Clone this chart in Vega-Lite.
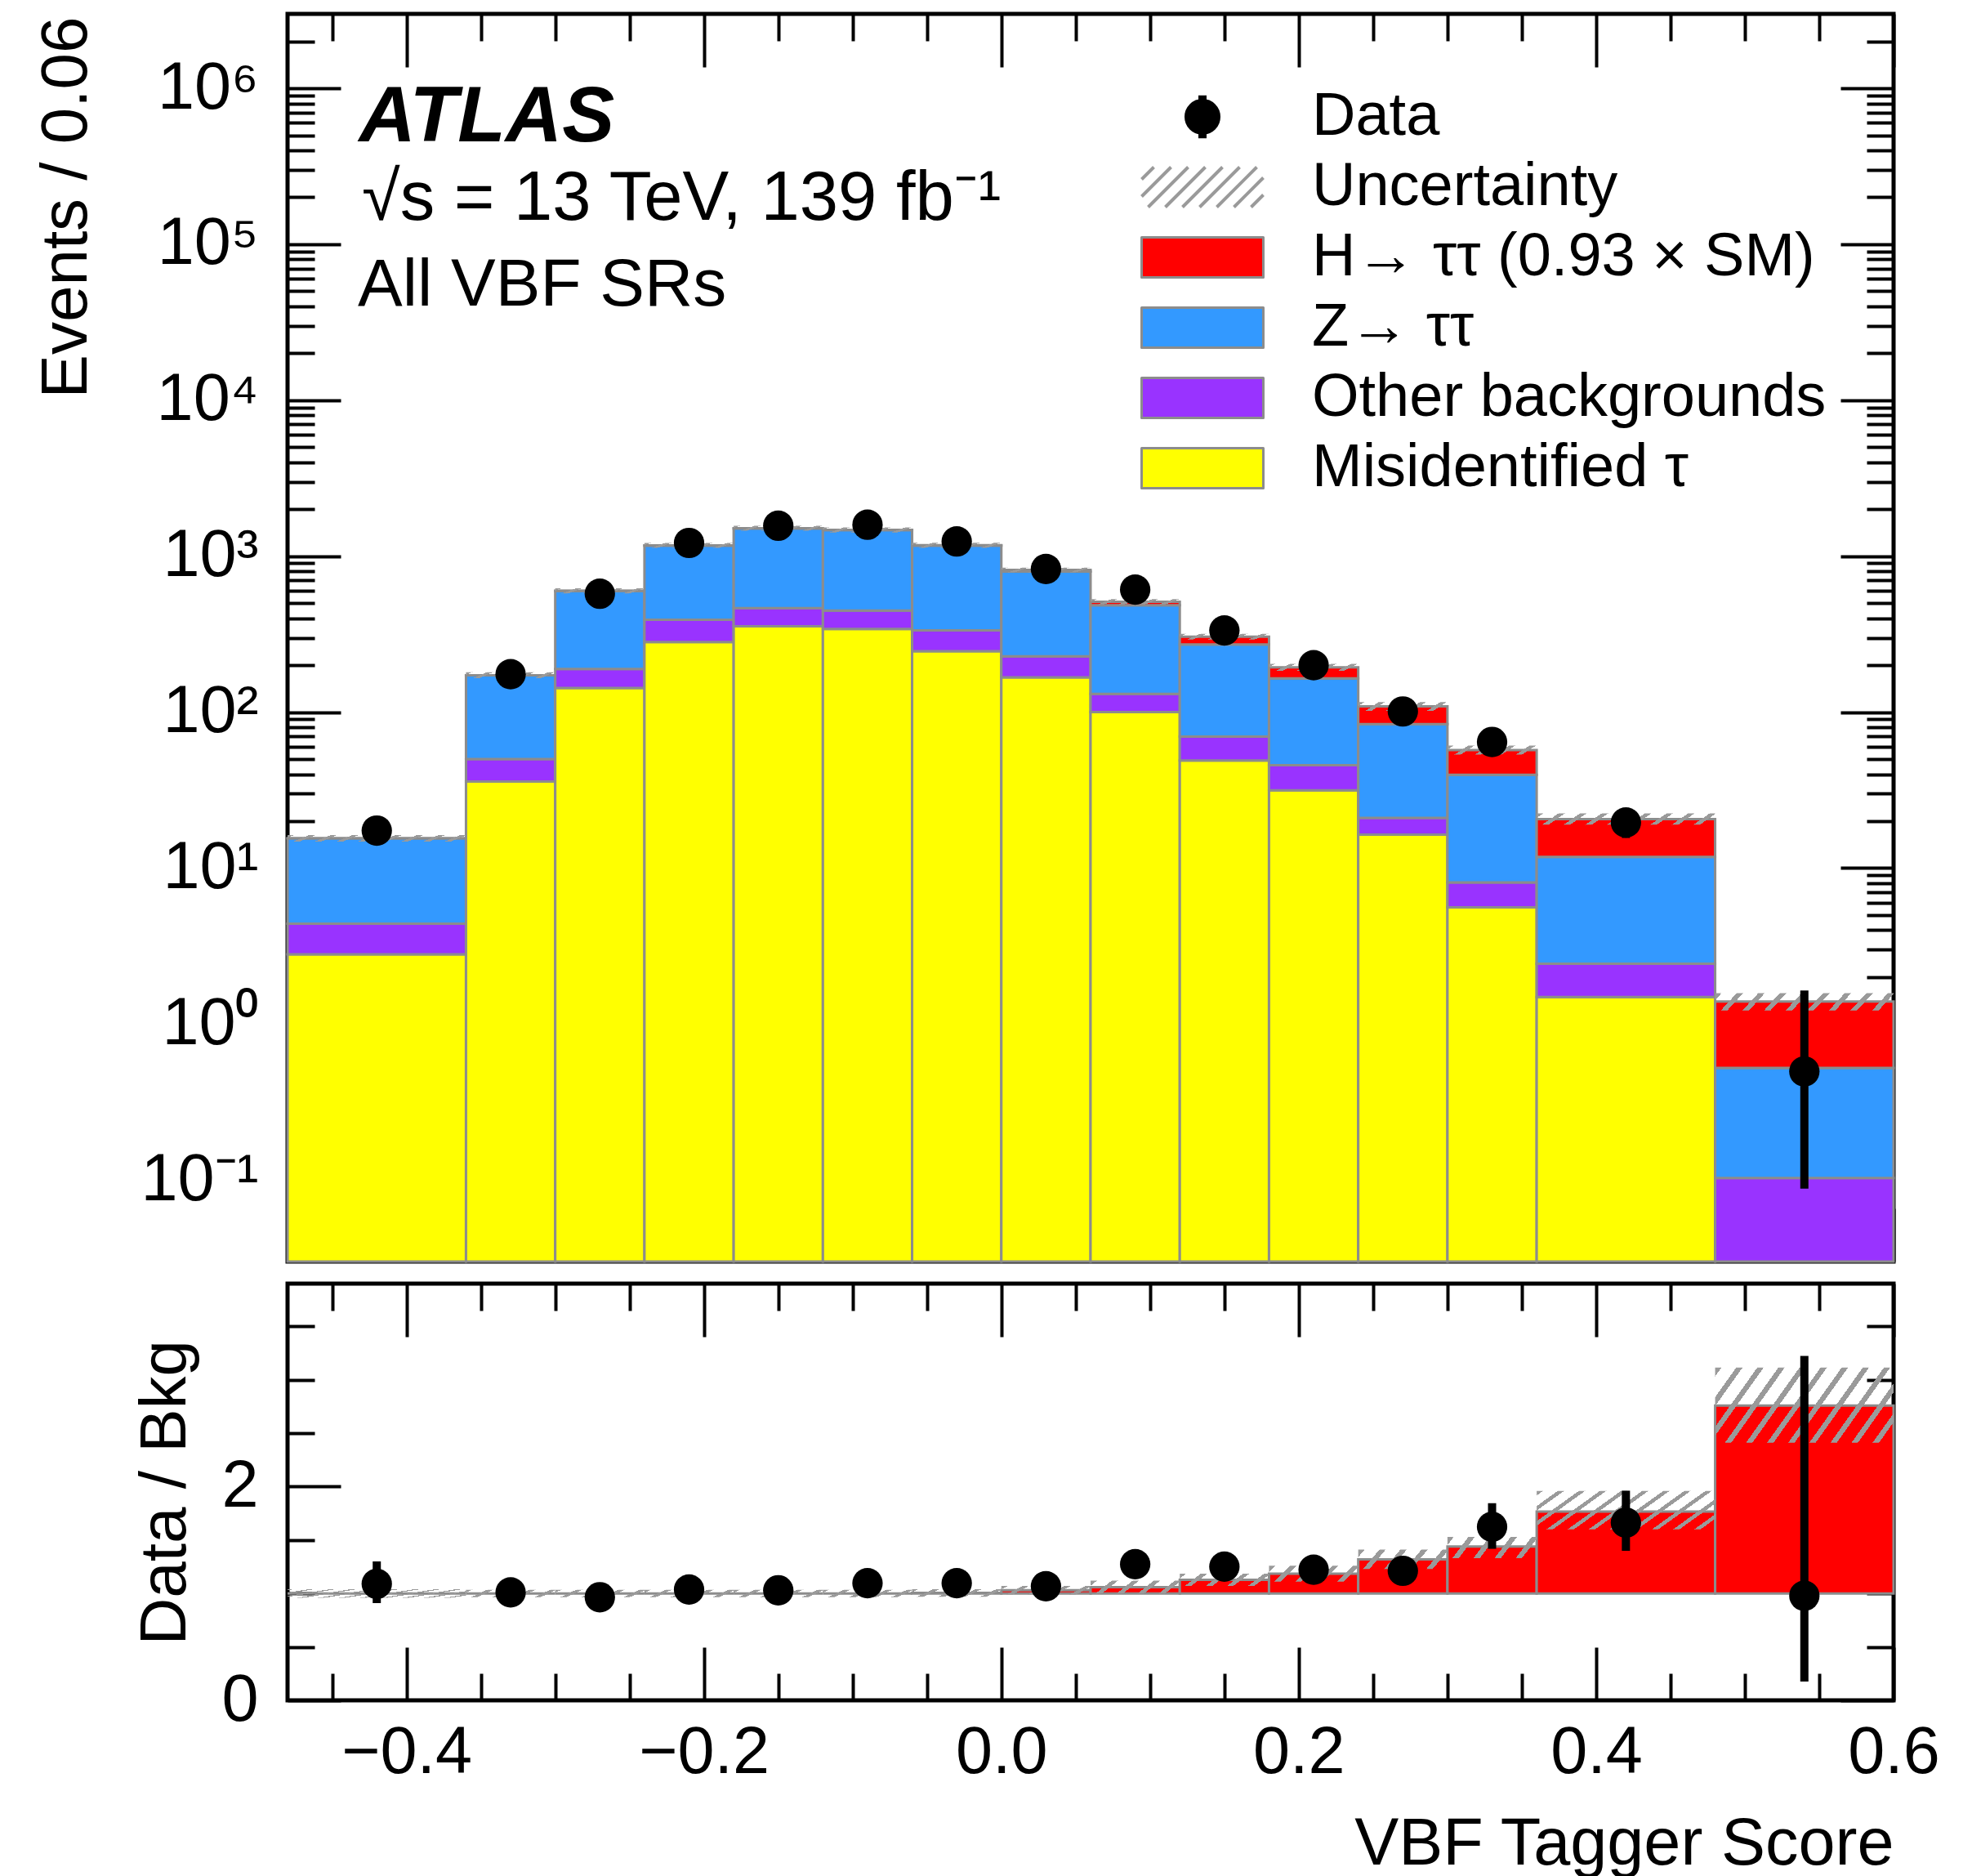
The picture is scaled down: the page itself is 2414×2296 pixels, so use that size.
{
  "$schema": "https://vega.github.io/schema/vega-lite/v6.json",
  "padding": {"left": 38, "top": 12, "right": 10, "bottom": 0},
  "spacing": 17,
  "resolve": {"scale": {"color": "independent"}, "legend": {"color": "independent"}},
  "config": {
    "font": "Liberation Sans",
    "view": {"stroke": "black", "strokeWidth": 5},
    "axis": {"grid": false, "domain": false, "tickColor": "black", "tickWidth": 4, "labelFont": "Liberation Sans", "labelFontSize": 81, "labelColor": "black", "titleFont": "Liberation Sans", "titleFontSize": 80, "titleFontWeight": "normal", "titleColor": "black", "labelFlush": false, "labelOverlap": false}
  },
  "datasets": {
    "hist": [
      {"lo": -0.48, "hi": -0.36, "process": "Misidentified τ", "events": 2.8},
      {"lo": -0.48, "hi": -0.36, "process": "Other backgrounds", "events": 1.6},
      {"lo": -0.48, "hi": -0.36, "process": "Z→ ττ", "events": 11.1},
      {"lo": -0.48, "hi": -0.36, "process": "H→ ττ (0.93 × SM)", "events": 0.02},
      {"lo": -0.36, "hi": -0.30, "process": "Misidentified τ", "events": 35.9},
      {"lo": -0.36, "hi": -0.30, "process": "Other backgrounds", "events": 14.1},
      {"lo": -0.36, "hi": -0.30, "process": "Z→ ττ", "events": 122},
      {"lo": -0.36, "hi": -0.30, "process": "H→ ττ (0.93 × SM)", "events": 0.3},
      {"lo": -0.30, "hi": -0.24, "process": "Misidentified τ", "events": 143},
      {"lo": -0.30, "hi": -0.24, "process": "Other backgrounds", "events": 46},
      {"lo": -0.30, "hi": -0.24, "process": "Z→ ττ", "events": 410},
      {"lo": -0.30, "hi": -0.24, "process": "H→ ττ (0.93 × SM)", "events": 1},
      {"lo": -0.24, "hi": -0.18, "process": "Misidentified τ", "events": 282},
      {"lo": -0.24, "hi": -0.18, "process": "Other backgrounds", "events": 109},
      {"lo": -0.24, "hi": -0.18, "process": "Z→ ττ", "events": 779},
      {"lo": -0.24, "hi": -0.18, "process": "H→ ττ (0.93 × SM)", "events": 2},
      {"lo": -0.18, "hi": -0.12, "process": "Misidentified τ", "events": 355},
      {"lo": -0.18, "hi": -0.12, "process": "Other backgrounds", "events": 110},
      {"lo": -0.18, "hi": -0.12, "process": "Z→ ττ", "events": 1042},
      {"lo": -0.18, "hi": -0.12, "process": "H→ ττ (0.93 × SM)", "events": 3},
      {"lo": -0.12, "hi": -0.06, "process": "Misidentified τ", "events": 342},
      {"lo": -0.12, "hi": -0.06, "process": "Other backgrounds", "events": 106},
      {"lo": -0.12, "hi": -0.06, "process": "Z→ ττ", "events": 1024},
      {"lo": -0.12, "hi": -0.06, "process": "H→ ττ (0.93 × SM)", "events": 4},
      {"lo": -0.06, "hi": 0.0, "process": "Misidentified τ", "events": 246},
      {"lo": -0.06, "hi": 0.0, "process": "Other backgrounds", "events": 88},
      {"lo": -0.06, "hi": 0.0, "process": "Z→ ττ", "events": 836},
      {"lo": -0.06, "hi": 0.0, "process": "H→ ττ (0.93 × SM)", "events": 6},
      {"lo": 0.0, "hi": 0.06, "process": "Misidentified τ", "events": 167},
      {"lo": 0.0, "hi": 0.06, "process": "Other backgrounds", "events": 61},
      {"lo": 0.0, "hi": 0.06, "process": "Z→ ττ", "events": 568},
      {"lo": 0.0, "hi": 0.06, "process": "H→ ττ (0.93 × SM)", "events": 20},
      {"lo": 0.06, "hi": 0.12, "process": "Misidentified τ", "events": 100},
      {"lo": 0.06, "hi": 0.12, "process": "Other backgrounds", "events": 31},
      {"lo": 0.06, "hi": 0.12, "process": "Z→ ττ", "events": 354},
      {"lo": 0.06, "hi": 0.12, "process": "H→ ττ (0.93 × SM)", "events": 25},
      {"lo": 0.12, "hi": 0.18, "process": "Misidentified τ", "events": 48.9},
      {"lo": 0.12, "hi": 0.18, "process": "Other backgrounds", "events": 20.7},
      {"lo": 0.12, "hi": 0.18, "process": "Z→ ττ", "events": 202},
      {"lo": 0.12, "hi": 0.18, "process": "H→ ττ (0.93 × SM)", "events": 33},
      {"lo": 0.18, "hi": 0.24, "process": "Misidentified τ", "events": 31.5},
      {"lo": 0.18, "hi": 0.24, "process": "Other backgrounds", "events": 14.2},
      {"lo": 0.18, "hi": 0.24, "process": "Z→ ττ", "events": 119},
      {"lo": 0.18, "hi": 0.24, "process": "H→ ττ (0.93 × SM)", "events": 29},
      {"lo": 0.24, "hi": 0.30, "process": "Misidentified τ", "events": 16.4},
      {"lo": 0.24, "hi": 0.30, "process": "Other backgrounds", "events": 4.6},
      {"lo": 0.24, "hi": 0.30, "process": "Z→ ττ", "events": 62.8},
      {"lo": 0.24, "hi": 0.30, "process": "H→ ττ (0.93 × SM)", "events": 25},
      {"lo": 0.30, "hi": 0.36, "process": "Misidentified τ", "events": 5.6},
      {"lo": 0.30, "hi": 0.36, "process": "Other backgrounds", "events": 2.5},
      {"lo": 0.30, "hi": 0.36, "process": "Z→ ττ", "events": 31.6},
      {"lo": 0.30, "hi": 0.36, "process": "H→ ττ (0.93 × SM)", "events": 17.5},
      {"lo": 0.36, "hi": 0.48, "process": "Misidentified τ", "events": 1.49},
      {"lo": 0.36, "hi": 0.48, "process": "Other backgrounds", "events": 0.95},
      {"lo": 0.36, "hi": 0.48, "process": "Z→ ττ", "events": 9.36},
      {"lo": 0.36, "hi": 0.48, "process": "H→ ττ (0.93 × SM)", "events": 8.8},
      {"lo": 0.48, "hi": 0.60, "process": "Other backgrounds", "events": 0.103},
      {"lo": 0.48, "hi": 0.60, "process": "Z→ ττ", "events": 0.421},
      {"lo": 0.48, "hi": 0.60, "process": "H→ ττ (0.93 × SM)", "events": 0.87}
    ],
    "bins": [
      {"lo": -0.48, "hi": -0.36, "center": -0.42, "data": 17.4, "data_lo": 14.2, "data_hi": 20.8, "unc_lo": 14.8, "unc_hi": 16.3, "r_sig": 1.0, "r_unc_lo": 0.96, "r_unc_hi": 1.04, "r_data": 1.09, "r_data_lo": 0.91, "r_data_hi": 1.30},
      {"lo": -0.36, "hi": -0.30, "center": -0.33, "data": 175, "data_lo": 162, "data_hi": 188, "unc_lo": 165, "unc_hi": 180, "r_sig": 1.0, "r_unc_lo": 0.965, "r_unc_hi": 1.035, "r_data": 1.01, "r_data_lo": 0.94, "r_data_hi": 1.08},
      {"lo": -0.30, "hi": -0.24, "center": -0.27, "data": 574, "data_lo": 550, "data_hi": 598, "unc_lo": 578, "unc_hi": 622, "r_sig": 1.0, "r_unc_lo": 0.965, "r_unc_hi": 1.035, "r_data": 0.965, "r_data_lo": 0.925, "r_data_hi": 1.005},
      {"lo": -0.24, "hi": -0.18, "center": -0.21, "data": 1216, "data_lo": 1181, "data_hi": 1251, "unc_lo": 1130, "unc_hi": 1215, "r_sig": 1.0, "r_unc_lo": 0.965, "r_unc_hi": 1.035, "r_data": 1.037, "r_data_lo": 1.007, "r_data_hi": 1.067},
      {"lo": -0.18, "hi": -0.12, "center": -0.15, "data": 1567, "data_lo": 1527, "data_hi": 1607, "unc_lo": 1455, "unc_hi": 1565, "r_sig": 1.0, "r_unc_lo": 0.965, "r_unc_hi": 1.035, "r_data": 1.03, "r_data_lo": 1.004, "r_data_hi": 1.056},
      {"lo": -0.12, "hi": -0.06, "center": -0.09, "data": 1591, "data_lo": 1551, "data_hi": 1631, "unc_lo": 1420, "unc_hi": 1530, "r_sig": 1.0, "r_unc_lo": 0.965, "r_unc_hi": 1.035, "r_data": 1.096, "r_data_lo": 1.07, "r_data_hi": 1.122},
      {"lo": -0.06, "hi": 0.0, "center": -0.03, "data": 1242, "data_lo": 1207, "data_hi": 1277, "unc_lo": 1130, "unc_hi": 1220, "r_sig": 1.005, "r_unc_lo": 0.97, "r_unc_hi": 1.04, "r_data": 1.096, "r_data_lo": 1.066, "r_data_hi": 1.126},
      {"lo": 0.0, "hi": 0.06, "center": 0.03, "data": 828, "data_lo": 799, "data_hi": 857, "unc_lo": 788, "unc_hi": 845, "r_sig": 1.03, "r_unc_lo": 0.99, "r_unc_hi": 1.07, "r_data": 1.068, "r_data_lo": 1.03, "r_data_hi": 1.105},
      {"lo": 0.06, "hi": 0.12, "center": 0.09, "data": 610, "data_lo": 585, "data_hi": 635, "unc_lo": 490, "unc_hi": 530, "r_sig": 1.06, "r_unc_lo": 1.0, "r_unc_hi": 1.12, "r_data": 1.274, "r_data_lo": 1.22, "r_data_hi": 1.33},
      {"lo": 0.12, "hi": 0.18, "center": 0.15, "data": 334, "data_lo": 316, "data_hi": 352, "unc_lo": 292, "unc_hi": 318, "r_sig": 1.127, "r_unc_lo": 1.07, "r_unc_hi": 1.185, "r_data": 1.251, "r_data_lo": 1.18, "r_data_hi": 1.32},
      {"lo": 0.18, "hi": 0.24, "center": 0.21, "data": 200, "data_lo": 186, "data_hi": 214, "unc_lo": 184, "unc_hi": 204, "r_sig": 1.185, "r_unc_lo": 1.11, "r_unc_hi": 1.26, "r_data": 1.223, "r_data_lo": 1.14, "r_data_hi": 1.31},
      {"lo": 0.24, "hi": 0.30, "center": 0.27, "data": 101, "data_lo": 91, "data_hi": 111, "unc_lo": 102, "unc_hi": 116, "r_sig": 1.32, "r_unc_lo": 1.23, "r_unc_hi": 1.41, "r_data": 1.212, "r_data_lo": 1.09, "r_data_hi": 1.33},
      {"lo": 0.30, "hi": 0.36, "center": 0.33, "data": 64.4, "data_lo": 56.4, "data_hi": 72.4, "unc_lo": 53.5, "unc_hi": 61, "r_sig": 1.44, "r_unc_lo": 1.33, "r_unc_hi": 1.53, "r_data": 1.624, "r_data_lo": 1.418, "r_data_hi": 1.845},
      {"lo": 0.36, "hi": 0.48, "center": 0.42, "data": 19.6, "data_lo": 15.6, "data_hi": 24.0, "unc_lo": 19.0, "unc_hi": 22.4, "r_sig": 1.767, "r_unc_lo": 1.60, "r_unc_hi": 1.96, "r_data": 1.663, "r_data_lo": 1.399, "r_data_hi": 1.962},
      {"lo": 0.48, "hi": 0.60, "center": 0.54, "data": 0.497, "data_lo": 0.088, "data_hi": 1.64, "unc_lo": 1.22, "unc_hi": 1.58, "r_sig": 2.758, "r_unc_lo": 2.41, "r_unc_hi": 3.115, "r_data": 0.979, "r_data_lo": 0.175, "r_data_hi": 3.224}
    ]
  },
  "vconcat": [
    {
      "width": 1966,
      "height": 1527,
      "resolve": {"axis": {"x": "independent", "y": "independent"}},
      "layer": [
        {
          "data": {"name": "hist"},
          "transform": [{"stack": "events", "groupby": ["lo"], "as": ["y0", "y1"]}],
          "mark": {"type": "rect", "stroke": "#8c8c8c", "strokeWidth": 3},
          "encoding": {
            "x": {"field": "lo", "type": "quantitative", "scale": {"domain": [-0.48, 0.6], "nice": false, "zero": false},
                  "axis": {"orient": "bottom", "values": [-0.4, -0.2, 0, 0.2, 0.4, 0.6], "labels": false, "tickSize": -65, "title": null}},
            "x2": {"field": "hi"},
            "y": {"field": "y1", "type": "quantitative", "scale": {"type": "log", "domain": [0.03, 3000000], "nice": false, "clamp": true},
                  "axis": {"orient": "left", "values": [0.1, 1, 10, 100, 1000, 10000, 100000, 1000000], "tickSize": -65, "labelPadding": 101,
                           "labelExpr": "'10' + (datum.value < 0.5 ? '⁻¹' : datum.value < 5 ? '⁰' : datum.value < 50 ? '¹' : datum.value < 500 ? '²' : datum.value < 5000 ? '³' : datum.value < 50000 ? '⁴' : datum.value < 500000 ? '⁵' : '⁶')",
                           "title": "Events / 0.06", "titleX": -247, "titleY": 3, "titleAlign": "right", "titleAnchor": "end", "titleBaseline": "alphabetic", "titleAngle": 270}},
            "y2": {"field": "y0"},
            "color": {
              "field": "process", "type": "nominal",
              "scale": {
                "domain": ["Data", "Uncertainty", "H→ ττ (0.93 × SM)", "Z→ ττ", "Other backgrounds", "Misidentified τ"],
                "range": ["#000000", "rgba(255,255,255,0)", "#ff0000", "#3399ff", "#9933ff", "#ffff00"]
              },
              "legend": {
                "orient": "none", "legendX": 1083, "legendY": 89, "title": null, "padding": 0,
                "symbolType": "M-2.98,-0.98H2.98V0.98H-2.98Z", "symbolSize": 2500,
                "symbolStrokeColor": "#8c8c8c", "symbolStrokeWidth": 3, "symbolOpacity": 1,
                "labelFont": "Liberation Sans", "labelFontSize": 74, "labelColor": "black", "labelLimit": 3000, "labelOffset": 97, "rowPadding": 12,
                "encode": {"symbols": {"update": {
                  "shape": {"signal": "datum.value === 'Data' ? 'M0,-1.05V1.05M-0.68,0A0.68,0.68 0 1 0 0.68,0A0.68,0.68 0 1 0 -0.68,0Z' : datum.value === 'Uncertainty' ? 'M-2.98,-0.38L-2.38,-0.98M-2.98,0.46L-1.54,-0.98M-2.66,0.98L-0.7,-0.98M-1.82,0.98L0.14,-0.98M-0.98,0.98L0.98,-0.98M-0.14,0.98L1.82,-0.98M0.7,0.98L2.66,-0.98M1.54,0.98L2.98,-0.46M2.38,0.98L2.98,0.38' : 'M-2.98,-0.98H2.98V0.98H-2.98Z'"},
                  "stroke": {"signal": "datum.value === 'Data' ? 'black' : datum.value === 'Uncertainty' ? '#9a9a9a' : '#8c8c8c'"},
                  "strokeWidth": {"signal": "datum.value === 'Data' ? 10 : datum.value === 'Uncertainty' ? 4 : 3"},
                  "strokeJoin": {"value": "round"}
                }}}
              }
            }
          }
        },
        {
          "data": {"name": "bins"},
          "transform": [{"filter": "datum.hi - datum.lo < 0.1"}],
          "mark": {"type": "rect", "strokeWidth": 0, "fill": {"gradient": "linear", "x1": 0, "y1": 0, "x2": 1.125, "y2": 0.169, "stops": [
            {"offset": 0, "color": "#9a9a9a"}, {"offset": 0.06, "color": "#9a9a9a"}, {"offset": 0.06, "color": "rgba(255,255,255,0)"}, {"offset": 0.2, "color": "rgba(255,255,255,0)"},
            {"offset": 0.2, "color": "#9a9a9a"}, {"offset": 0.26, "color": "#9a9a9a"}, {"offset": 0.26, "color": "rgba(255,255,255,0)"}, {"offset": 0.4, "color": "rgba(255,255,255,0)"},
            {"offset": 0.4, "color": "#9a9a9a"}, {"offset": 0.46, "color": "#9a9a9a"}, {"offset": 0.46, "color": "rgba(255,255,255,0)"}, {"offset": 0.6, "color": "rgba(255,255,255,0)"},
            {"offset": 0.6, "color": "#9a9a9a"}, {"offset": 0.66, "color": "#9a9a9a"}, {"offset": 0.66, "color": "rgba(255,255,255,0)"}, {"offset": 0.8, "color": "rgba(255,255,255,0)"},
            {"offset": 0.8, "color": "#9a9a9a"}, {"offset": 0.86, "color": "#9a9a9a"}, {"offset": 0.86, "color": "rgba(255,255,255,0)"}, {"offset": 1, "color": "rgba(255,255,255,0)"}
          ]}},
          "encoding": {
            "x": {"field": "lo", "type": "quantitative", "scale": {"domain": [-0.48, 0.6], "nice": false, "zero": false},
                  "axis": {"orient": "top", "values": [-0.4, -0.2, 0, 0.2, 0.4, 0.6], "labels": false, "tickSize": -65, "title": null}},
            "x2": {"field": "hi"},
            "y": {"field": "unc_lo", "type": "quantitative", "scale": {"type": "log", "domain": [0.03, 3000000], "nice": false, "clamp": true},
                  "axis": {"orient": "right", "values": [0.1, 1, 10, 100, 1000, 10000, 100000, 1000000], "labels": false, "tickSize": -65, "title": null}},
            "y2": {"field": "unc_hi"}
          }
        },
        {
          "data": {"name": "bins"},
          "transform": [{"filter": "datum.hi - datum.lo > 0.1"}],
          "mark": {"type": "rect", "strokeWidth": 0, "fill": {"gradient": "linear", "x1": 0, "y1": 0, "x2": 1.081, "y2": 0.097, "stops": [
            {"offset": 0, "color": "#9a9a9a"}, {"offset": 0.0333, "color": "#9a9a9a"}, {"offset": 0.0333, "color": "rgba(255,255,255,0)"}, {"offset": 0.1111, "color": "rgba(255,255,255,0)"},
            {"offset": 0.1111, "color": "#9a9a9a"}, {"offset": 0.1444, "color": "#9a9a9a"}, {"offset": 0.1444, "color": "rgba(255,255,255,0)"}, {"offset": 0.2222, "color": "rgba(255,255,255,0)"},
            {"offset": 0.2222, "color": "#9a9a9a"}, {"offset": 0.2556, "color": "#9a9a9a"}, {"offset": 0.2556, "color": "rgba(255,255,255,0)"}, {"offset": 0.3333, "color": "rgba(255,255,255,0)"},
            {"offset": 0.3333, "color": "#9a9a9a"}, {"offset": 0.3667, "color": "#9a9a9a"}, {"offset": 0.3667, "color": "rgba(255,255,255,0)"}, {"offset": 0.4444, "color": "rgba(255,255,255,0)"},
            {"offset": 0.4444, "color": "#9a9a9a"}, {"offset": 0.4778, "color": "#9a9a9a"}, {"offset": 0.4778, "color": "rgba(255,255,255,0)"}, {"offset": 0.5556, "color": "rgba(255,255,255,0)"},
            {"offset": 0.5556, "color": "#9a9a9a"}, {"offset": 0.5889, "color": "#9a9a9a"}, {"offset": 0.5889, "color": "rgba(255,255,255,0)"}, {"offset": 0.6667, "color": "rgba(255,255,255,0)"},
            {"offset": 0.6667, "color": "#9a9a9a"}, {"offset": 0.7, "color": "#9a9a9a"}, {"offset": 0.7, "color": "rgba(255,255,255,0)"}, {"offset": 0.7778, "color": "rgba(255,255,255,0)"},
            {"offset": 0.7778, "color": "#9a9a9a"}, {"offset": 0.8111, "color": "#9a9a9a"}, {"offset": 0.8111, "color": "rgba(255,255,255,0)"}, {"offset": 0.8889, "color": "rgba(255,255,255,0)"},
            {"offset": 0.8889, "color": "#9a9a9a"}, {"offset": 0.9222, "color": "#9a9a9a"}, {"offset": 0.9222, "color": "rgba(255,255,255,0)"}, {"offset": 1, "color": "rgba(255,255,255,0)"}
          ]}},
          "encoding": {
            "x": {"field": "lo", "type": "quantitative", "scale": {"domain": [-0.48, 0.6], "nice": false, "zero": false},
                  "axis": {"orient": "bottom", "values": [-0.45, -0.35, -0.3, -0.25, -0.15, -0.1, -0.05, 0.05, 0.1, 0.15, 0.25, 0.3, 0.35, 0.45, 0.5, 0.55], "labels": false, "tickSize": -33, "title": null}},
            "x2": {"field": "hi"},
            "y": {"field": "unc_lo", "type": "quantitative", "scale": {"type": "log", "domain": [0.03, 3000000], "nice": false, "clamp": true},
                  "axis": {"orient": "left", "values": [0.04, 0.05, 0.06, 0.07, 0.08, 0.09, 0.2, 0.3, 0.4, 0.5, 0.6, 0.7, 0.8, 0.9, 2, 3, 4, 5, 6, 7, 8, 9, 20, 30, 40, 50, 60, 70, 80, 90, 200, 300, 400, 500, 600, 700, 800, 900, 2000, 3000, 4000, 5000, 6000, 7000, 8000, 9000, 20000, 30000, 40000, 50000, 60000, 70000, 80000, 90000, 200000, 300000, 400000, 500000, 600000, 700000, 800000, 900000, 2000000], "labels": false, "tickSize": -33, "title": null}},
            "y2": {"field": "unc_hi"}
          }
        },
        {
          "data": {"name": "bins"},
          "mark": {"type": "rule", "color": "black", "strokeWidth": 10},
          "encoding": {
            "x": {"field": "center", "type": "quantitative", "scale": {"domain": [-0.48, 0.6], "nice": false, "zero": false},
                  "axis": {"orient": "top", "values": [-0.45, -0.35, -0.3, -0.25, -0.15, -0.1, -0.05, 0.05, 0.1, 0.15, 0.25, 0.3, 0.35, 0.45, 0.5, 0.55], "labels": false, "tickSize": -33, "title": null}},
            "y": {"field": "data_lo", "type": "quantitative", "scale": {"type": "log", "domain": [0.03, 3000000], "nice": false, "clamp": true},
                  "axis": {"orient": "right", "values": [0.04, 0.05, 0.06, 0.07, 0.08, 0.09, 0.2, 0.3, 0.4, 0.5, 0.6, 0.7, 0.8, 0.9, 2, 3, 4, 5, 6, 7, 8, 9, 20, 30, 40, 50, 60, 70, 80, 90, 200, 300, 400, 500, 600, 700, 800, 900, 2000, 3000, 4000, 5000, 6000, 7000, 8000, 9000, 20000, 30000, 40000, 50000, 60000, 70000, 80000, 90000, 200000, 300000, 400000, 500000, 600000, 700000, 800000, 900000, 2000000], "labels": false, "tickSize": -33, "title": null}},
            "y2": {"field": "data_hi"}
          }
        },
        {
          "data": {"name": "bins"},
          "mark": {"type": "circle", "size": 1385, "color": "black", "opacity": 1},
          "encoding": {
            "x": {"field": "center", "type": "quantitative", "scale": {"domain": [-0.48, 0.6], "nice": false, "zero": false}, "axis": null},
            "y": {"field": "data", "type": "quantitative", "scale": {"type": "log", "domain": [0.03, 3000000], "nice": false, "clamp": true}, "axis": null}
          }
        },
        {
          "data": {"values": [{"label": "ATLAS"}]},
          "mark": {"type": "text", "align": "left", "baseline": "alphabetic", "font": "Liberation Sans", "fontSize": 96, "fontStyle": "italic", "fontWeight": "bold", "color": "black"},
          "encoding": {
            "x": {"datum": -0.432, "type": "quantitative", "axis": null},
            "y": {"datum": 455000, "type": "quantitative", "axis": null},
            "text": {"field": "label"}
          }
        },
        {
          "data": {"values": [{"label": "√s = 13 TeV, 139 fb⁻¹"}]},
          "mark": {"type": "text", "align": "left", "baseline": "alphabetic", "font": "Liberation Sans", "fontSize": 85, "color": "black"},
          "encoding": {
            "x": {"datum": -0.43, "type": "quantitative", "axis": null},
            "y": {"datum": 143000, "type": "quantitative", "axis": null},
            "text": {"field": "label"}
          }
        },
        {
          "data": {"values": [{"label": "All VBF SRs"}]},
          "mark": {"type": "text", "align": "left", "baseline": "alphabetic", "font": "Liberation Sans", "fontSize": 82, "color": "black"},
          "encoding": {
            "x": {"datum": -0.4327, "type": "quantitative", "axis": null},
            "y": {"datum": 40200, "type": "quantitative", "axis": null},
            "text": {"field": "label"}
          }
        }
      ]
    },
    {
      "width": 1966,
      "height": 510,
      "data": {"name": "bins"},
      "resolve": {"axis": {"x": "independent", "y": "independent"}},
      "layer": [
        {
          "mark": {"type": "rect", "color": "#ff0000", "stroke": "#8c8c8c", "strokeWidth": 3},
          "encoding": {
            "x": {"field": "lo", "type": "quantitative", "scale": {"domain": [-0.48, 0.6], "nice": false, "zero": false},
                  "axis": {"orient": "bottom", "values": [-0.4, -0.2, 0, 0.2, 0.4, 0.6], "format": ".1f", "tickSize": -65, "labelPadding": 89, "labelBaseline": "top",
                           "title": "VBF Tagger Score", "titleX": 1966, "titleY": 200, "titleAlign": "right", "titleAnchor": "end", "titleBaseline": "alphabetic", "titleFontSize": 81}},
            "x2": {"field": "hi"},
            "y": {"field": "r_sig", "type": "quantitative", "scale": {"domain": [0, 3.9], "nice": false, "zero": false},
                  "axis": {"orient": "left", "values": [0, 2], "tickSize": -65, "labelPadding": 101,
                           "title": "Data / Bkg", "titleX": -126, "titleY": 68.5, "titleAlign": "right", "titleAnchor": "end", "titleBaseline": "alphabetic", "titleAngle": 270}},
            "y2": {"datum": 1}
          }
        },
        {
          "transform": [{"filter": "datum.hi - datum.lo < 0.1"}],
          "mark": {"type": "rect", "strokeWidth": 0, "fill": {"gradient": "linear", "x1": 0, "y1": 0, "x2": 1.143, "y2": 0.206, "stops": [
            {"offset": 0, "color": "#9a9a9a"}, {"offset": 0.06, "color": "#9a9a9a"}, {"offset": 0.06, "color": "rgba(255,255,255,0)"}, {"offset": 0.2, "color": "rgba(255,255,255,0)"},
            {"offset": 0.2, "color": "#9a9a9a"}, {"offset": 0.26, "color": "#9a9a9a"}, {"offset": 0.26, "color": "rgba(255,255,255,0)"}, {"offset": 0.4, "color": "rgba(255,255,255,0)"},
            {"offset": 0.4, "color": "#9a9a9a"}, {"offset": 0.46, "color": "#9a9a9a"}, {"offset": 0.46, "color": "rgba(255,255,255,0)"}, {"offset": 0.6, "color": "rgba(255,255,255,0)"},
            {"offset": 0.6, "color": "#9a9a9a"}, {"offset": 0.66, "color": "#9a9a9a"}, {"offset": 0.66, "color": "rgba(255,255,255,0)"}, {"offset": 0.8, "color": "rgba(255,255,255,0)"},
            {"offset": 0.8, "color": "#9a9a9a"}, {"offset": 0.86, "color": "#9a9a9a"}, {"offset": 0.86, "color": "rgba(255,255,255,0)"}, {"offset": 1, "color": "rgba(255,255,255,0)"}
          ]}},
          "encoding": {
            "x": {"field": "lo", "type": "quantitative", "scale": {"domain": [-0.48, 0.6], "nice": false, "zero": false},
                  "axis": {"orient": "top", "values": [-0.4, -0.2, 0, 0.2, 0.4, 0.6], "labels": false, "tickSize": -65, "title": null}},
            "x2": {"field": "hi"},
            "y": {"field": "r_unc_lo", "type": "quantitative", "scale": {"domain": [0, 3.9], "nice": false, "zero": false},
                  "axis": {"orient": "right", "values": [0, 2], "labels": false, "tickSize": -65, "title": null}},
            "y2": {"field": "r_unc_hi"}
          }
        },
        {
          "transform": [{"filter": "datum.hi - datum.lo > 0.1"}],
          "mark": {"type": "rect", "strokeWidth": 0, "fill": {"gradient": "linear", "x1": 0, "y1": 0, "x2": 1.193, "y2": 0.358, "stops": [
            {"offset": 0, "color": "#9a9a9a"}, {"offset": 0.0273, "color": "#9a9a9a"}, {"offset": 0.0273, "color": "rgba(255,255,255,0)"}, {"offset": 0.0909, "color": "rgba(255,255,255,0)"},
            {"offset": 0.0909, "color": "#9a9a9a"}, {"offset": 0.1182, "color": "#9a9a9a"}, {"offset": 0.1182, "color": "rgba(255,255,255,0)"}, {"offset": 0.1818, "color": "rgba(255,255,255,0)"},
            {"offset": 0.1818, "color": "#9a9a9a"}, {"offset": 0.2091, "color": "#9a9a9a"}, {"offset": 0.2091, "color": "rgba(255,255,255,0)"}, {"offset": 0.2727, "color": "rgba(255,255,255,0)"},
            {"offset": 0.2727, "color": "#9a9a9a"}, {"offset": 0.3, "color": "#9a9a9a"}, {"offset": 0.3, "color": "rgba(255,255,255,0)"}, {"offset": 0.3636, "color": "rgba(255,255,255,0)"},
            {"offset": 0.3636, "color": "#9a9a9a"}, {"offset": 0.3909, "color": "#9a9a9a"}, {"offset": 0.3909, "color": "rgba(255,255,255,0)"}, {"offset": 0.4545, "color": "rgba(255,255,255,0)"},
            {"offset": 0.4545, "color": "#9a9a9a"}, {"offset": 0.4818, "color": "#9a9a9a"}, {"offset": 0.4818, "color": "rgba(255,255,255,0)"}, {"offset": 0.5455, "color": "rgba(255,255,255,0)"},
            {"offset": 0.5455, "color": "#9a9a9a"}, {"offset": 0.5727, "color": "#9a9a9a"}, {"offset": 0.5727, "color": "rgba(255,255,255,0)"}, {"offset": 0.6364, "color": "rgba(255,255,255,0)"},
            {"offset": 0.6364, "color": "#9a9a9a"}, {"offset": 0.6636, "color": "#9a9a9a"}, {"offset": 0.6636, "color": "rgba(255,255,255,0)"}, {"offset": 0.7273, "color": "rgba(255,255,255,0)"},
            {"offset": 0.7273, "color": "#9a9a9a"}, {"offset": 0.7545, "color": "#9a9a9a"}, {"offset": 0.7545, "color": "rgba(255,255,255,0)"}, {"offset": 0.8182, "color": "rgba(255,255,255,0)"},
            {"offset": 0.8182, "color": "#9a9a9a"}, {"offset": 0.8455, "color": "#9a9a9a"}, {"offset": 0.8455, "color": "rgba(255,255,255,0)"}, {"offset": 0.9091, "color": "rgba(255,255,255,0)"},
            {"offset": 0.9091, "color": "#9a9a9a"}, {"offset": 0.9364, "color": "#9a9a9a"}, {"offset": 0.9364, "color": "rgba(255,255,255,0)"}, {"offset": 1, "color": "rgba(255,255,255,0)"}
          ]}},
          "encoding": {
            "x": {"field": "lo", "type": "quantitative", "scale": {"domain": [-0.48, 0.6], "nice": false, "zero": false},
                  "axis": {"orient": "bottom", "values": [-0.45, -0.35, -0.3, -0.25, -0.15, -0.1, -0.05, 0.05, 0.1, 0.15, 0.25, 0.3, 0.35, 0.45, 0.5, 0.55], "labels": false, "tickSize": -33, "title": null}},
            "x2": {"field": "hi"},
            "y": {"field": "r_unc_lo", "type": "quantitative", "scale": {"domain": [0, 3.9], "nice": false, "zero": false},
                  "axis": {"orient": "left", "values": [0.5, 1, 1.5, 2.5, 3, 3.5], "labels": false, "tickSize": -33, "title": null}},
            "y2": {"field": "r_unc_hi"}
          }
        },
        {
          "mark": {"type": "rule", "color": "black", "strokeWidth": 10},
          "encoding": {
            "x": {"field": "center", "type": "quantitative", "scale": {"domain": [-0.48, 0.6], "nice": false, "zero": false},
                  "axis": {"orient": "top", "values": [-0.45, -0.35, -0.3, -0.25, -0.15, -0.1, -0.05, 0.05, 0.1, 0.15, 0.25, 0.3, 0.35, 0.45, 0.5, 0.55], "labels": false, "tickSize": -33, "title": null}},
            "y": {"field": "r_data_lo", "type": "quantitative", "scale": {"domain": [0, 3.9], "nice": false, "zero": false},
                  "axis": {"orient": "right", "values": [0.5, 1, 1.5, 2.5, 3, 3.5], "labels": false, "tickSize": -33, "title": null}},
            "y2": {"field": "r_data_hi"}
          }
        },
        {
          "mark": {"type": "circle", "size": 1385, "color": "black", "opacity": 1},
          "encoding": {
            "x": {"field": "center", "type": "quantitative", "scale": {"domain": [-0.48, 0.6], "nice": false, "zero": false}, "axis": null},
            "y": {"field": "r_data", "type": "quantitative", "scale": {"domain": [0, 3.9], "nice": false, "zero": false}, "axis": null}
          }
        }
      ]
    }
  ]
}
